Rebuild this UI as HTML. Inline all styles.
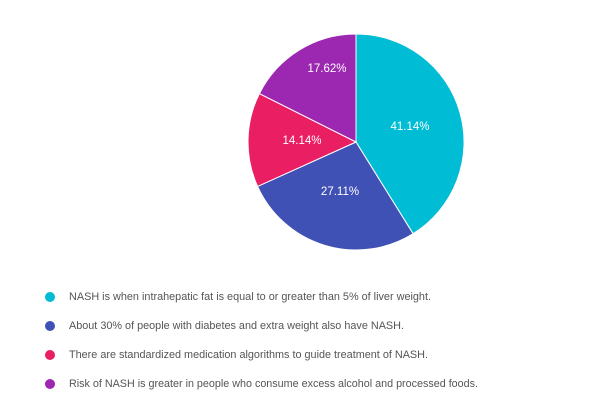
<!DOCTYPE html>
<html><head><meta charset="utf-8"><style>
body{margin:0;background:#fff;width:600px;height:414px;overflow:hidden;font-family:"Liberation Sans",Arial,sans-serif}
</style></head><body>
<svg width="600" height="414" xmlns="http://www.w3.org/2000/svg" style="position:absolute;left:0;top:0">
<g stroke="#fff" stroke-width="1">
<path d="M356,142 L356,34 A108,108 0 0 1 413.1,233.7 Z" fill="#00BCD4"/>
<path d="M356,142 L413.1,233.7 A108,108 0 0 1 257.6,186.4 Z" fill="#3F51B5"/>
<path d="M356,142 L257.6,186.4 A108,108 0 0 1 259.4,93.6 Z" fill="#E91E63"/>
<path d="M356,142 L259.4,93.6 A108,108 0 0 1 356,34 Z" fill="#9C27B0"/>
</g>
<g fill="#fff" font-size="11.5" text-anchor="middle" dominant-baseline="central">
<text x="410" y="127">41.14%</text>
<text x="340" y="192">27.11%</text>
<text x="302" y="141">14.14%</text>
<text x="327" y="69">17.62%</text>
</g>
<g font-size="10.9" fill="#555" dominant-baseline="central">
<circle cx="50" cy="297" r="5" fill="#00BCD4"/><text x="69" y="297" textLength="362" lengthAdjust="spacingAndGlyphs">NASH is when intrahepatic fat is equal to or greater than 5% of liver weight.</text>
<circle cx="50" cy="326" r="5" fill="#3F51B5"/><text x="69" y="326" textLength="335" lengthAdjust="spacingAndGlyphs">About 30% of people with diabetes and extra weight also have NASH.</text>
<circle cx="50" cy="355" r="5" fill="#E91E63"/><text x="69" y="355" textLength="359" lengthAdjust="spacingAndGlyphs">There are standardized medication algorithms to guide treatment of NASH.</text>
<circle cx="50" cy="384" r="5" fill="#9C27B0"/><text x="69" y="384" textLength="409" lengthAdjust="spacingAndGlyphs">Risk of NASH is greater in people who consume excess alcohol and processed foods.</text>
</g>
</svg>
</body></html>
